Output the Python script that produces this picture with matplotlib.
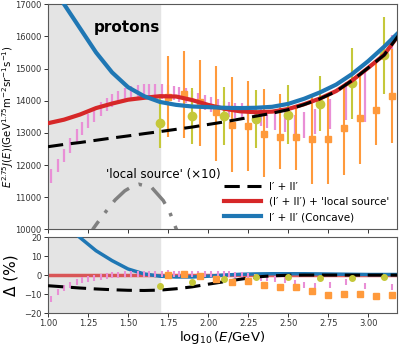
import matplotlib
matplotlib.use("Agg")
import matplotlib.pyplot as plt

# model curves on a 0.1 grid in log10(E/GeV)
curve_x = [1.0, 1.1, 1.2, 1.3, 1.4, 1.5, 1.6, 1.7, 1.8, 1.9, 2.0, 2.1,
           2.2, 2.3, 2.4, 2.5, 2.6, 2.7, 2.8, 2.9, 3.0, 3.1, 3.2]
black_y = [12570, 12640, 12700, 12770, 12840, 12905, 12975, 13040, 13110,
           13180, 13260, 13340, 13430, 13520, 13610, 13720, 13880, 14060,
           14290, 14630, 15020, 15420, 16100]
red_y = [13300, 13410, 13570, 13770, 13910, 14030, 14090, 14140, 14130,
         14020, 13870, 13750, 13670, 13640, 13660, 13740, 13890, 14070,
         14300, 14630, 15020, 15430, 16110]
blue_y = [17900, 17000, 16250, 15500, 14880, 14420, 14140, 13960, 13870,
          13820, 13800, 13780, 13770, 13780, 13810, 13900, 14060, 14260,
          14500, 14830, 15230, 15680, 16170]
black_d = [-5.6, -6.2, -6.8, -7.3, -7.7, -8.0, -8.1, -7.9, -7.2, -6.2, -4.8,
           -3.5, -2.2, -1.0, -0.4, -0.1, 0, 0, 0, 0, 0, 0, 0]
blue_d = [34.6, 26.8, 19.7, 12.8, 7.6, 3.2, 0.6, -0.6, -1.0, -1.0, -0.6, 0.0,
          0.4, 0.6, 0.7, 0.7, 0.7, 0.6, 0.5, 0.4, 0.3, 0.3, 0.3]

# 'local source' x10
local_x = [1.25, 1.283, 1.308, 1.367, 1.419, 1.48, 1.533, 1.567, 1.648,
           1.72, 1.76, 1.80, 1.83]
local_y = [9700, 10026, 10200, 10590, 10915, 11200, 11355, 11404, 11300,
           10896, 10538, 10026, 9700]

# green circles
green_x = [1.7, 1.9, 2.1, 2.3, 2.5, 2.7, 2.9, 3.1]
green_y = [13300, 13520, 13530, 13430, 13570, 13907, 14540, 15407]
green_err = [770, 880, 900, 900, 930, 850, 1100, 1200]
green_d = [-5.9, -3.7, -1.9, -1.2, -1.05, -1.6, -1.6, -1.05]

# orange squares
orange_x = [1.75, 1.85, 1.95, 2.05, 2.15, 2.25, 2.35, 2.45, 2.55, 2.65,
            2.75, 2.85, 2.95, 3.05, 3.15]
orange_y = [14130, 14213, 13958, 13652, 13242, 13212, 12957, 12865, 12886,
            12804, 12804, 13141, 13469, 13704, 14142]
orange_up = [1256, 1327, 1292, 1428, 1482, 1408, 1409, 1348, 970, 1357,
             1357, 1378, 1356, 1498, 1449]
orange_lo = [1243, 1378, 1368, 1532, 1449, 1397, 1326, 1001, 1052, 1400,
             1378, 1449, 1452, 1074, 1450]
orange_d = [-0.2, 0.7, -0.3, -2.1, -3.7, -3.0, -5.1, -6.1, -6.5, -8.6,
            -10.3, -9.8, -9.8, -10.8, -10.7]

# pink bars
pink_x = [1.02, 1.06, 1.10, 1.14, 1.18, 1.21, 1.25, 1.29, 1.33, 1.37, 1.40,
          1.44, 1.48, 1.52, 1.56, 1.60, 1.63, 1.67, 1.71, 1.75, 1.79, 1.82,
          1.86, 1.90, 1.94, 1.98, 2.02, 2.06, 2.10, 2.13, 2.17, 2.21, 2.25,
          2.29, 2.33, 2.37, 2.42, 2.48, 2.54, 2.60, 2.67, 2.76, 2.86, 2.98,
          3.15]
pink_y = [11660, 11990, 12294, 12605, 12895, 13140, 13370, 13575, 13744,
          13886, 14010, 14110, 14194, 14245, 14275, 14300, 14300, 14300,
          14290, 14270, 14240, 14200, 14150, 14080, 14010, 13940, 13870,
          13810, 13760, 13720, 13700, 13680, 13620, 13540, 13470, 13420,
          13380, 13350, 13190, 13240, 13350, 13580, 13980, 14150, 15010]
pink_err = [210, 205, 205, 230, 215, 205, 230, 230, 215, 205, 205, 205, 205,
            205, 215, 220, 220, 220, 230, 230, 230, 230, 230, 230, 230, 230,
            230, 230, 235, 235, 240, 240, 245, 250, 260, 280, 300, 330, 360,
            400, 390, 460, 590, 820, 1040]
pink_d = [-12.5, -9.0, -6.8, -5.0, -3.8, -2.8, -2.0, -1.4, -0.9, -0.5, -0.2,
          0.1, 0.3, 0.4, 0.4, 0.4, 0.5, 0.6, 0.8, 0.9, 0.8, 0.7, 0.8, 0.6,
          0.5, 0.6, 0.5, 0.5, 0.4, 0.3, 0.2, 0.1, -0.3, -0.8, -1.3, -1.8,
          -2.2, -2.6, -4.4, -5.1, -5.9, -5.1, -3.8, -5.9, -6.5]

x_ticks = [1.00, 1.25, 1.50, 1.75, 2.00, 2.25, 2.50, 2.75, 3.00]

PINK = "#e98fd6"
ORANGE = "#ff9a3c"
GREEN = "#c5c83a"
RED = "#d62728"
BLUE = "#1f77b4"

fig = plt.figure(figsize=(4.0, 3.46), dpi=100)
ax1 = fig.add_axes([0.12, 0.337, 0.8725, 0.651])
ax2 = fig.add_axes([0.12, 0.095, 0.8725, 0.22])

for ax in (ax1, ax2):
    ax.axvspan(1.0, 1.7, color="#e4e4e4", zorder=0)
    ax.set_xlim(1.0, 3.18)
    ax.set_xticks(x_ticks)
    ax.tick_params(labelsize=6, length=3, width=0.7, pad=1.5, colors="0.2")
    for s in ax.spines.values():
        s.set_color("0.35")

# top panel
ax1.errorbar(pink_x, pink_y, yerr=pink_err, fmt="none", ecolor=PINK,
             elinewidth=1.6, zorder=2)
ax1.errorbar(orange_x, orange_y, yerr=[orange_lo, orange_up], fmt="s",
             color=ORANGE, ms=4, elinewidth=1.5, zorder=3)
ax1.errorbar(green_x, green_y, yerr=green_err, fmt="o", color=GREEN,
             ms=6, elinewidth=1.5, zorder=3)
ax1.plot(local_x, local_y, color="gray", lw=2.5, ls=(0, (6, 3, 1, 3)), zorder=4)
l1, = ax1.plot(curve_x, black_y, color="black", lw=2.2, ls=(0, (5, 2.5)), zorder=6)
l2, = ax1.plot(curve_x, red_y, color=RED, lw=3, zorder=5)
l3, = ax1.plot(curve_x, blue_y, color=BLUE, lw=3, zorder=5)

ax1.set_ylim(10000, 17000)
ax1.set_yticks([10000, 11000, 12000, 13000, 14000, 15000, 16000, 17000])
ax1.tick_params(labelbottom=False)
ax1.set_ylabel(r"$E^{2.75}J(E)(\mathrm{GeV}^{1.75}\mathrm{m}^{-2}\mathrm{sr}^{-1}\mathrm{s}^{-1})$",
               fontsize=7.3)
ax1.yaxis.set_label_coords(-0.092, 0.5)
ax1.text(1.49, 16150, "protons", fontweight="bold", fontsize=11, ha="center")
ax1.text(1.72, 11600, "'local source' (\u00d710)", fontsize=8.5, ha="center")
ax1.legend([l1, l2, l3],
           ["I\u2032 + II\u2032", "(I\u2032 + II\u2032) + 'local source'",
            "I\u2032 + II\u2032 (Concave)"],
           loc="lower right", fontsize=7.5, frameon=False, handlelength=3.6,
           borderaxespad=0.3, labelspacing=0.5)

# bottom panel
ax2.axhline(0, color=RED, lw=2.5, alpha=0.75, zorder=2)
ax2.plot(curve_x, blue_d, color=BLUE, lw=2.5, zorder=3)
ax2.plot(curve_x, black_d, color="black", lw=2.2, ls=(0, (5, 2.5)), zorder=4)
ax2.plot(pink_x, pink_d, ls="none", marker="|", ms=4, mew=1.5, color=PINK, zorder=3)
ax2.plot(orange_x, orange_d, ls="none", marker="s", ms=4, color=ORANGE, zorder=4)
ax2.plot(green_x, green_d, ls="none", marker="o", ms=4, color=GREEN, zorder=4)
ax2.set_ylim(-20, 20)
ax2.set_yticks([-20, -10, 0, 10, 20])
ax2.set_xticklabels([f"{t:.2f}" for t in x_ticks])
ax2.set_ylabel("\u0394 (%)", fontsize=11)
ax2.yaxis.set_label_coords(-0.085, 0.5)
ax2.set_xlabel(r"$\log_{10}(E/\mathrm{GeV})$", fontsize=9.5)
ax2.xaxis.set_label_coords(0.5, -0.21)

fig.savefig("out.png", dpi=100)
